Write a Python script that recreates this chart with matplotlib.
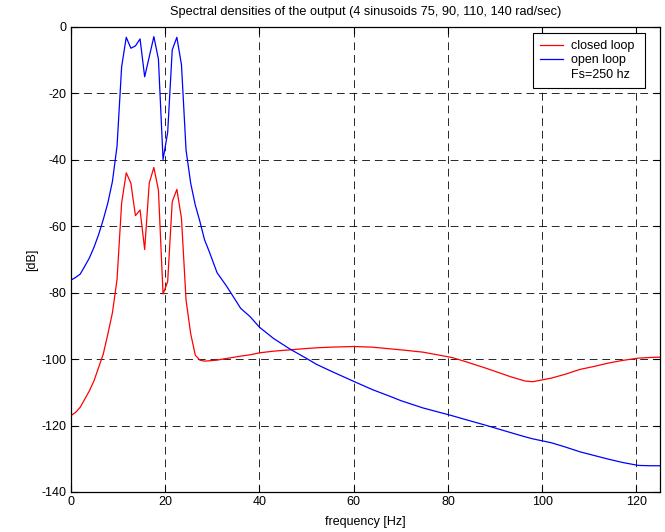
import matplotlib
matplotlib.use("Agg")
import matplotlib.pyplot as plt
from matplotlib.lines import Line2D

# frequency grid near the peaks is 250/256 Hz, coarser elsewhere
freq = [0, 0.98, 1.95, 2.93, 3.91, 4.88, 5.86, 6.84, 7.81, 8.79,
        9.77, 10.74, 11.72, 12.70, 13.67, 14.65, 15.63, 16.60, 17.58, 18.55,
        19.53, 20.51, 21.48, 22.46, 23.44, 24.41, 25.39, 26.37, 27.34, 28.32,
        29.30, 31, 33, 36, 38, 40, 43, 46.5, 50, 52, 55, 60, 64, 67.7, 70, 74.7,
        80.8, 82.5, 88, 93.5, 96.4, 98, 102, 105, 108, 111, 114, 117, 120.4, 123, 125]

open_loop = [-76.2, -75.4, -74.4, -72.0, -69.5, -66.3, -62.5, -58.0, -53.0, -46.5,
             -35.8, -12.0, -3.1, -6.4, -5.7, -3.6, -15.0, -9.0, -2.9, -9.7,
             -39.9, -31.8, -6.9, -3.1, -11.4, -37.0, -47.0, -53.6, -58.5, -64.0,
             -67.5, -74.0, -78.0, -84.7, -87.2, -90.4, -93.8, -97.0, -99.8, -101.5, -103.5, -106.7, -109.2, -111.2, -112.5, -114.7,
             -117.0, -117.7, -119.9, -122.2, -123.4, -124.0, -125.2, -126.5, -127.9, -129.0, -130.1, -131.1, -132.0, -132.1, -132.1]

closed_loop = [-117.0, -116.0, -114.5, -112.0, -109.5, -106.5, -102.5, -98.5, -92.5, -86.0,
               -76.0, -53.0, -43.9, -47.0, -56.8, -55.1, -67.0, -47.0, -42.3, -49.1,
               -80.4, -76.7, -52.6, -48.9, -57.6, -82.2, -92.3, -98.8, -100.3, -100.6,
               -100.5, -100.3, -99.8, -99.1, -98.7, -98.1, -97.6, -97.2, -96.8, -96.6, -96.4, -96.2, -96.4, -96.9, -97.2, -97.9,
               -99.5, -100.2, -102.7, -105.4, -106.6, -106.8, -105.7, -104.5, -103.1, -102.2, -101.2, -100.4, -99.7, -99.5, -99.4]

legend_labels = ['closed loop ', 'open loop ', 'Fs=250 hz ']

plt.rcParams['font.family'] = ['Liberation Sans', 'DejaVu Sans']
plt.rcParams['font.size'] = 9
plt.rcParams['axes.unicode_minus'] = False

fig = plt.figure(figsize=(6.65, 5.32), dpi=100)
ax = fig.add_axes([0.1068, 0.0752, 0.8857, 0.8741])

ax.plot(freq, closed_loop, color='red', lw=0.9)
ax.plot(freq, open_loop, color='blue', lw=0.9)

ax.set_xlim(0, 125)
ax.set_ylim(-140, 0)
ax.set_xticks(range(0, 121, 20))
ax.set_yticks(range(-140, 1, 20))
ax.tick_params(direction='in', length=5, width=0.8, colors='black', labelsize=9, pad=3)
ax.tick_params(top=True, right=True)
ax.grid(True, color='black', linestyle=(0, (8, 5)), linewidth=0.7, alpha=0.85)
for s in ax.spines.values():
    s.set_linewidth(0.9)

ax.set_title('Spectral densities of the output (4 sinusoids 75, 90, 110, 140 rad/sec)',
             fontsize=9.2, pad=8.5)
ax.set_xlabel('frequency [Hz]', labelpad=5.5)
ax.set_ylabel('[dB]', labelpad=3)

handles = [Line2D([], [], color='red', lw=0.9),
           Line2D([], [], color='blue', lw=0.9),
           Line2D([], [], color='none')]
leg = ax.legend(handles, legend_labels, loc='upper right',
                fancybox=False, framealpha=1, edgecolor='black', handlelength=1.85,
                borderpad=0.55, labelspacing=0.2, handletextpad=0.64, borderaxespad=0,
                bbox_to_anchor=(0.974, 0.987))
leg.get_frame().set_linewidth(0.8)

fig.savefig('out.png', dpi=100)
